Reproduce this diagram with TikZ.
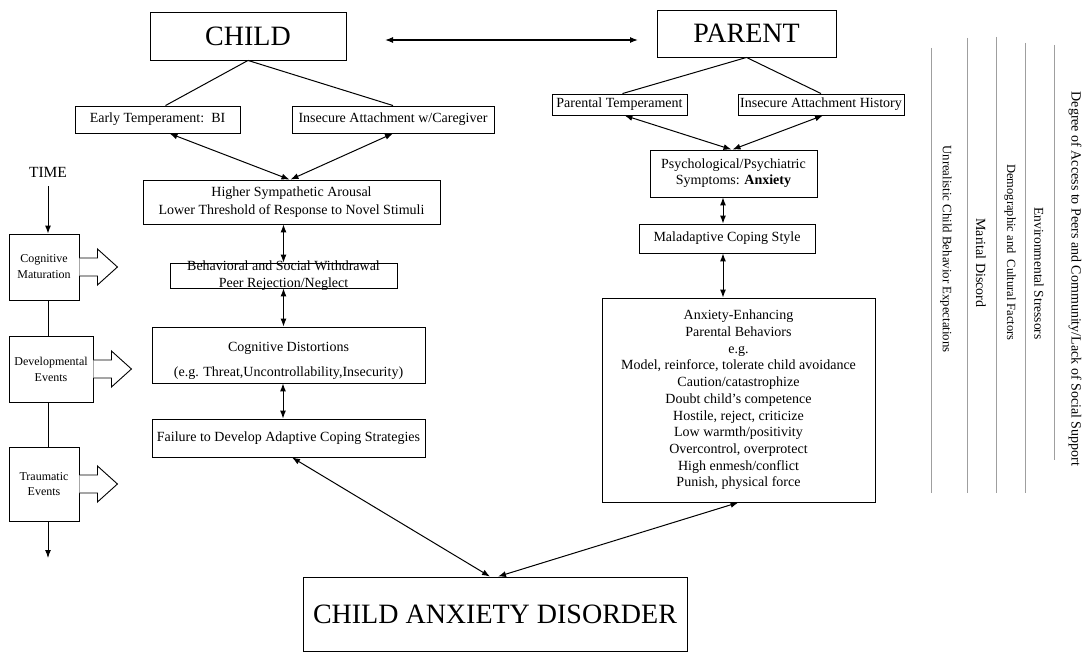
\documentclass[tikz,border=0pt]{standalone}
\usepackage{fontspec}
\setmainfont{Liberation Serif}
\usetikzlibrary{arrows.meta}
\newcommand\fsz[2]{\fontsize{#1pt}{#2pt}\selectfont}
\begin{document}
\begin{tikzpicture}[x=1pt,y=-1pt,
  box/.style={draw, line width=0.9pt, inner sep=0pt, align=center, font=\fsz{14}{17}},
  link/.style={line width=1pt},
  arr/.style={line width=1pt, -{Latex[length=8pt,width=6pt]}},
  darr/.style={line width=1pt, {Latex[length=8pt,width=6pt]}-{Latex[length=8pt,width=6pt]}},
  side/.style={rotate=-90, inner sep=0pt},
  guide/.style={gray!75, line width=0.7pt},
  blockarrow/.pic={\draw[line width=0.9pt, fill=white]
      (0,-9) -- (18,-9) -- (18,-18) -- (38,0) -- (18,18) -- (18,9) -- (0,9);}]
\useasboundingbox (0,0) rectangle (1085,652);

% child column
\node[box, minimum width=196pt, minimum height=48pt, font=\fsz{28}{32}] (child) at (248,36) {CHILD};
\node[box, minimum width=165pt, minimum height=27pt] (temp) at (157.5,119.5) {Early Temperament:\ \ BI};
\node[box, minimum width=202pt, minimum height=27pt] (attach) at (393,119.5) {Insecure Attachment w/Caregiver};
\node[box, minimum width=297pt, minimum height=44pt, font=\fsz{14}{18}] (arousal) at (291.5,202)
  {Higher Sympathetic Arousal\\Lower Threshold of Response to Novel Stimuli};
\node[box, minimum width=227pt, minimum height=25pt, inner ysep=-2.5pt] (withdraw) at (283.5,275.5)
  {Behavioral and Social Withdrawal\\Peer Rejection/Neglect};
\node[box, minimum width=273pt, minimum height=56pt] (distort) at (288.5,355)
  {\rule{0pt}{21pt}Cognitive Distortions\\[8pt](e.g. Threat,Uncontrollability,Insecurity)};
\node[box, minimum width=273pt, minimum height=38pt] (failure) at (288.5,438)
  {Failure to Develop Adaptive Coping Strategies};

% parent column
\node[box, minimum width=179pt, minimum height=47pt, font=\fsz{28}{32}] (parent) at (746.5,33.5) {PARENT};
\node[box, minimum width=135pt, minimum height=21pt] (ptemp) at (619.5,104.5) {Parental Temperament};
\node[box, minimum width=166pt, minimum height=21pt] (phist) at (821,104.5) {Insecure Attachment History};
\node[box, minimum width=167pt, minimum height=47pt, font=\fsz{14}{16}] (psych) at (733.5,173.5)
  {Psychological/Psychiatric\\Symptoms: \textbf{Anxiety}};
\node[box, minimum width=176pt, minimum height=29pt] (malad) at (727,238.5) {Maladaptive Coping Style};
\node[box, minimum width=273pt, minimum height=204pt, font=\fsz{14}{16.7}] (enhance) at (738.5,400)
  {Anxiety-Enhancing\\Parental Behaviors\\e.g.\\Model, reinforce, tolerate child avoidance\\
   Caution/catastrophize\\Doubt child's competence\\Hostile, reject, criticize\\
   Low warmth/positivity\\Overcontrol, overprotect\\High enmesh/conflict\\Punish, physical force};

% outcome
\node[box, minimum width=384pt, minimum height=74pt, font=\fsz{28}{32}] (cad) at (495,614) {CHILD ANXIETY DISORDER};

% time line
\node[font=\fsz{15.5}{18}, inner sep=0pt] (time) at (48,172) {TIME};
\node[box, minimum width=70pt, minimum height=66pt, font=\fsz{12}{16}] (cogmat) at (44,267) {Cognitive\\Maturation};
\node[box, minimum width=84pt, minimum height=66pt, font=\fsz{12}{16}] (devev) at (51,369) {Developmental\\Events};
\node[box, minimum width=70pt, minimum height=74pt, font=\fsz{12}{15}] (traum) at (44,484) {Traumatic\\Events};
\coordinate (tl) at (48,0);
\coordinate (tend) at (48,558);
\draw[arr] ([yshift=-9pt]time.south) -- (tl |- cogmat.north);
\draw[link] (tl |- cogmat.south) -- (tl |- devev.north);
\draw[link] (tl |- devev.south) -- (tl |- traum.north);
\draw[arr] (tl |- traum.south) -- (tend);
\pic at (cogmat.east) {blockarrow};
\pic at (devev.east) {blockarrow};
\pic at (traum.east) {blockarrow};

% child-parent link
\coordinate (cpl) at (385,40);
\coordinate (cpr) at (638,40);
\draw[darr, line width=1.2pt] (cpl) -- (cpr);

% child connectors
\draw[link] (child.south) -- ([xshift=8pt]temp.north);
\draw[link] (child.south) -- (attach.north);
\draw[darr] ([xshift=12pt]temp.south) -- ([xshift=-2pt]arousal.north);
\draw[darr] (attach.south) -- ([xshift=-1pt]arousal.north);
\draw[darr] (withdraw.north |- arousal.south) -- (withdraw.north);
\draw[darr] (withdraw.south) -- (withdraw.south |- distort.north);
\draw[darr] ([xshift=-5.5pt]distort.south) -- ([xshift=-5.5pt]failure.north);

% parent connectors
\draw[link] (parent.south) -- ([xshift=3pt]ptemp.north);
\draw[link] (parent.south) -- (phist.north);
\draw[darr] ([xshift=5pt]ptemp.south) -- ([xshift=-2pt]psych.north);
\draw[darr] ([xshift=2pt]phist.south) -- ([xshift=-1pt]psych.north);
\draw[darr] ([xshift=-4pt]malad.north |- psych.south) -- ([xshift=-4pt]malad.north);
\draw[darr] ([xshift=-4pt]malad.south) -- ([xshift=-4pt]malad.south |- enhance.north);

% paths into the outcome
\draw[darr] ([xshift=3.5pt]failure.south) -- ([xshift=-5pt]cad.north);
\draw[darr] (enhance.south) -- ([xshift=3pt]cad.north);

% contextual factors
\draw[guide] (931,48) -- (931,493);
\draw[guide] (967,38) -- (967,493);
\draw[guide] (996,37) -- (996,493);
\draw[guide] (1025,43) -- (1025,493);
\draw[guide] (1054,45) -- (1054,460);
\node[side, font=\fsz{12.8}{14}] (expect) at (946,249) {Unrealistic Child Behavior Expectations};
\node[side, font=\fsz{14}{16}] (marital) at (981,263) {Marital Discord};
\node[side, font=\fsz{12.5}{14}] (demog) at (1010,252.5) {Demographic and\ \ Cultural Factors};
\node[side, font=\fsz{13.5}{15}] (enviro) at (1039,273.5) {Environmental Stressors};
\node[side, font=\fsz{14}{16}] (access) at (1075,279) {Degree of Access to Peers and Community/Lack of Social Support};
\end{tikzpicture}
\end{document}
